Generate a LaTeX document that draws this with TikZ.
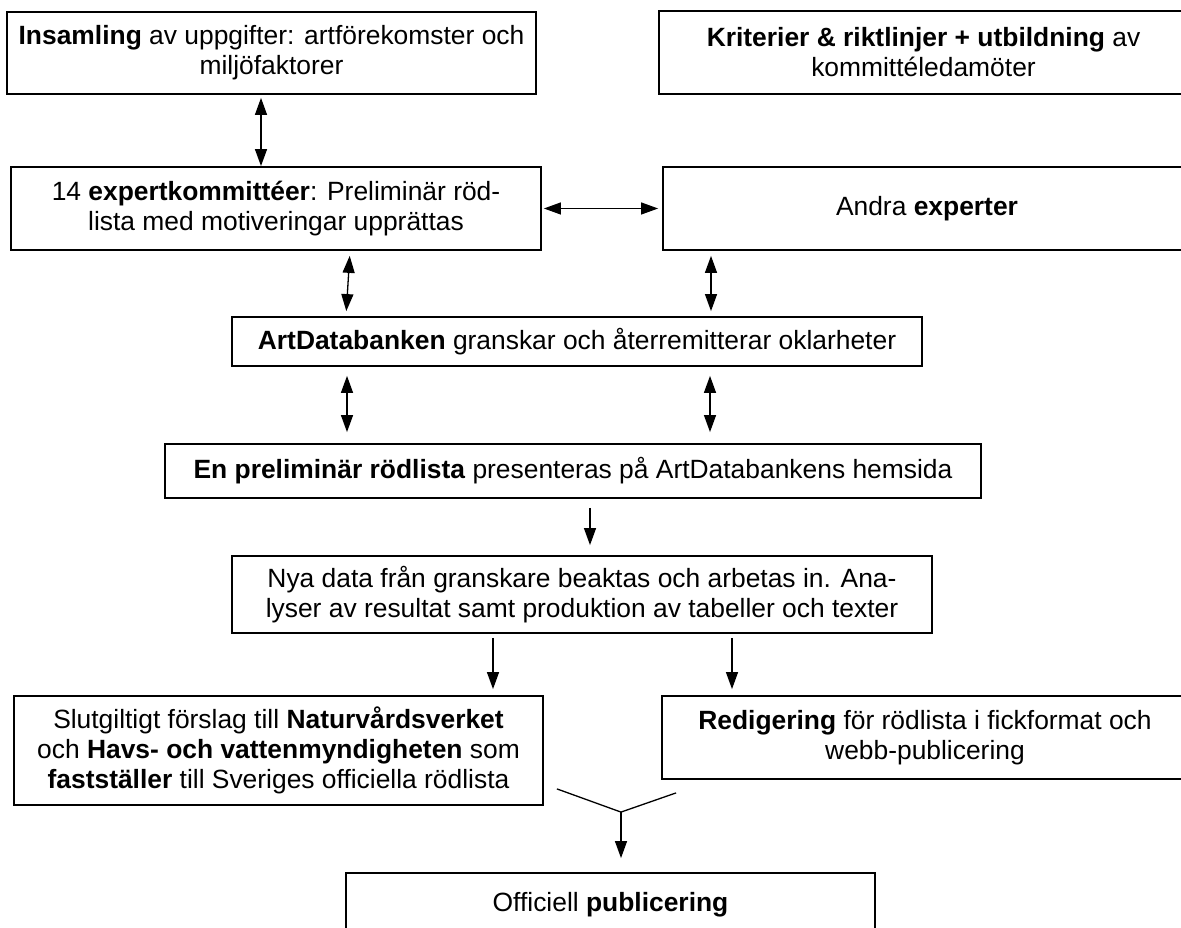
\documentclass[tikz,border=0pt]{standalone}
\usepackage{fontspec}
\setmainfont{Liberation Sans}
\usetikzlibrary{arrows.meta}

\begin{document}
\begin{tikzpicture}[x=1pt, y=1pt, >={Triangle[length=17pt,width=12pt]}, bnode/.style 2 args={rectangle, draw=black, line width=1.8pt, align=center, inner sep=0pt, minimum width=#1, minimum height=#2, font=\fontsize{26.4}{30}\selectfont}, arr/.style={line width=1.3pt}]
	\useasboundingbox (0,0) rectangle (1181,928);
	\node[bnode={529}{82}] (insamling) at (271.5,875) {\textbf{Insamling} av uppgifter: artförekomster och\\miljöfaktorer};
	\node[bnode={529}{83}] (kriterier) at (923.5,875.5) {\textbf{Kriterier \& riktlinjer + utbildning} av\\kommittéledamöter};
	\node[bnode={530}{83}] (kommitte) at (276,719.5) {14 \textbf{expertkommittéer}: Preliminär röd-\\lista med motiveringar upprättas};
	\node[bnode={528}{83}] (experter) at (927,719.5) {Andra \textbf{experter}};
	\node[bnode={690}{49}] (artdb) at (577,586.5) {\textbf{ArtDatabanken} granskar och återremitterar oklarheter};
	\node[bnode={816}{54}] (prelim) at (573,457) {\textbf{En preliminär rödlista} presenteras på ArtDatabankens hemsida};
	\node[bnode={700}{77}] (nyadata) at (582,333.5) {Nya data från granskare beaktas och arbetas in. Ana-\\lyser av resultat samt produktion av tabeller och texter};
	\node[bnode={529}{109}] (forslag) at (278.5,177.5) {Slutgiltigt förslag till \textbf{Naturvårdsverket}\\och \textbf{Havs- och vattenmyndigheten} som\\\textbf{fastställer} till Sveriges officiella rödlista};
	\node[bnode={526}{83}] (redigering) at (925,190.5) {\textbf{Redigering} för rödlista i fickformat och\\webb-publicering};
	\node[bnode={529}{64}] (publ) at (610.5,23) {Officiell \textbf{publicering}};
	\draw[arr,<->,shorten <=3pt] ([xshift=-10.5]insamling.south) -- ([xshift=-15]kommitte.north);
	\draw[arr,<->,shorten <=2pt,shorten >=4pt] (kommitte.east) -- (experter.west);
	\draw[arr,<->,shorten <=5pt,shorten >=5pt] ([xshift=74]kommitte.south) -- ([xshift=-231]artdb.north);
	\draw[arr,<->,shorten <=5pt,shorten >=5pt] ([xshift=-216]experter.south) -- ([xshift=134]artdb.north);
	\draw[arr,<->,shorten <=9pt,shorten >=11pt] ([xshift=-230]artdb.south) -- ([xshift=-226]prelim.north);
	\draw[arr,<->,shorten <=9pt,shorten >=11pt] ([xshift=133]artdb.south) -- ([xshift=137]prelim.north);
	\draw[arr,->,shorten <=9pt,shorten >=10pt] ([xshift=17]prelim.south) -- ([xshift=8]nyadata.north);
	\draw[arr,->,shorten <=4pt,shorten >=6pt] ([xshift=-89]nyadata.south) -- ([xshift=214.5]forslag.north);
	\draw[arr,->,shorten <=4pt,shorten >=6pt] ([xshift=150]nyadata.south) -- ([xshift=-193]redigering.north);
	\coordinate (merge) at ([xshift=10.5,yshift=60]publ.north);
	\draw[arr] ([xshift=13,yshift=17]forslag.south east) -- (merge) -- ([xshift=15,yshift=-13]redigering.south west);
	\draw[arr,->,shorten >=14pt] (merge) -- ([xshift=10.5]publ.north);
\end{tikzpicture}
\end{document}
